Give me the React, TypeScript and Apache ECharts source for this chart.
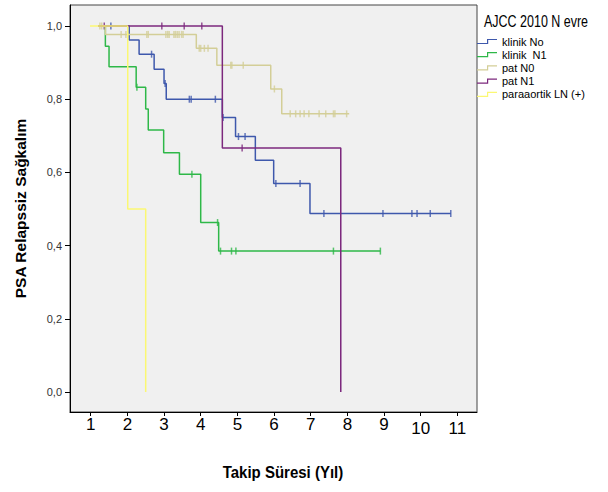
import React, { useEffect, useRef } from 'react';
import * as echarts from 'echarts';

// ---- Data ----
const xTickValues = [1, 2, 3, 4, 5, 6, 7, 8, 9, 10, 11];
const yTickValues = [0, 0.2, 0.4, 0.6, 0.8, 1.0];

const seriesNames = ['klinik No', 'klinik  N1', 'pat N0', 'pat N1', 'paraaortik LN (+)'];

// klinik No
const klinikNoTimes = [1.2, 2.05, 2.32, 2.73, 3.0, 3.06, 4.59, 4.95, 5.49, 5.99, 6.98, 10.82];
const klinikNoSurv = [1.0, 0.962, 0.923, 0.882, 0.843, 0.8, 0.75, 0.698, 0.633, 0.57, 0.488, 0.488];
const klinikNoCensor = [1.55, 2.66, 3.03, 3.69, 3.74, 4.4, 4.61, 5.03, 5.21, 6.05, 6.71, 7.36, 8.97, 9.76, 9.9, 10.26, 10.82];

// klinik N1
const klinikN1Times = [1.2, 1.4, 1.5, 2.24, 2.5, 2.57, 2.99, 3.42, 4.0, 4.49, 8.9];
const klinikN1Surv = [1.0, 0.945, 0.889, 0.833, 0.773, 0.716, 0.654, 0.595, 0.463, 0.385, 0.385];
const klinikN1Censor = [2.26, 3.76, 4.46, 4.54, 4.84, 4.96, 7.62, 8.9];

// pat N0
const patN0Times = [1.2, 1.4, 3.88, 4.44, 5.91, 6.21, 8.05];
const patN0Surv = [1.0, 0.977, 0.939, 0.893, 0.828, 0.76, 0.76];
const patN0Censor = [1.25, 1.3, 1.83, 1.96, 2.01, 2.53, 2.57, 3.05, 3.1, 3.14, 3.27, 3.31, 3.36, 3.41, 3.48, 3.52,
  3.96, 4.0, 4.1, 4.2, 4.82, 4.85, 5.16, 6.01, 6.44, 6.59, 6.71, 6.82, 6.95, 7.23, 7.41, 7.62, 7.66, 7.98];

// pat N1
const patN1Times = [1.2, 4.59, 7.82];
const patN1Surv = [1.0, 0.667, 0.0];
const patN1Censor = [1.37, 2.94, 3.55, 4.03, 5.13];

// paraaortik LN (+)
const paraTimes = [0.98, 2.01, 2.5];
const paraSurv = [1.0, 0.5, 0.0];
const paraCensor: number[] = [];

// ---- Styles ----
const palette = ['#3E58AC', '#2EB848', '#D3CE97', '#7C287D', '#FBF873'];
const FONT = "'Liberation Sans', Arial, sans-serif";
const X_MIN = 0.4355;
const X_MAX = 11.535;
const Y_MIN = -0.0546;
const Y_MAX = 1.0574;
// step-shaped legend icon drawn as a thin filled band
const STEP_ICON = 'path://M0,4L10,4L10,0L20,0L20,1.2L11.2,1.2L11.2,5.2L0,5.2Z';

const curves = [
  { times: klinikNoTimes, surv: klinikNoSurv, censor: klinikNoCensor },
  { times: klinikN1Times, surv: klinikN1Surv, censor: klinikN1Censor },
  { times: patN0Times, surv: patN0Surv, censor: patN0Censor },
  { times: patN1Times, surv: patN1Surv, censor: patN1Censor },
  { times: paraTimes, surv: paraSurv, censor: paraCensor },
].map((c, i) => ({ ...c, name: seriesNames[i], color: palette[i] }));

function survAt(times: number[], surv: number[], t: number): number {
  let s = surv[0];
  for (let i = 0; i < times.length; i++) if (times[i] <= t) s = surv[i];
  return s;
}

export default function App() {
  const ref = useRef<HTMLDivElement>(null);
  useEffect(() => {
    if (!ref.current) return;
    const chart = echarts.init(ref.current, undefined, { renderer: 'svg' });
    const series: any[] = [];
    curves.forEach((c) => {
      series.push({
        type: 'line',
        name: c.name,
        step: 'end',
        data: c.times.map((t, i) => [t, c.surv[i]]),
        symbol: 'none',
        showSymbol: false,
        silent: true,
        lineStyle: { color: c.color, width: 1.5 },
        itemStyle: { color: c.color },
      });
      if (c.censor.length) {
        series.push({
          type: 'scatter',
          name: c.name,
          data: c.censor.map((t) => [t, survAt(c.times, c.surv, t)]),
          symbol: 'rect',
          symbolSize: [1.5, 7],
          silent: true,
          itemStyle: { color: c.color },
        });
      }
    });

    chart.setOption({
      animation: false,
      backgroundColor: '#ffffff',
      textStyle: { fontFamily: FONT },
      grid: {
        left: 70, top: 5, width: 407, height: 407,
        show: true, backgroundColor: '#F0F0F0', borderColor: '#444', borderWidth: 1,
      },
      xAxis: {
        type: 'value', min: X_MIN, max: X_MAX,
        axisLine: { show: true, onZero: false, lineStyle: { color: '#000', width: 1 } },
        axisTick: { show: true, customValues: xTickValues, length: 4, lineStyle: { color: '#000' } },
        axisLabel: {
          customValues: xTickValues, margin: 2, color: '#000', fontSize: 17, fontFamily: FONT,
          formatter: (v: number) => (v >= 10 ? `{low|${v}}` : `{std|${v}}`),
          rich: {
            std: { fontSize: 17, lineHeight: 20, color: '#000', fontFamily: FONT },
            low: { fontSize: 17, lineHeight: 28, color: '#000', fontFamily: FONT },
          },
        },
        splitLine: { show: false },
      },
      yAxis: {
        type: 'value', min: Y_MIN, max: Y_MAX,
        axisLine: { show: true, onZero: false, lineStyle: { color: '#000', width: 1 } },
        axisTick: { show: true, customValues: yTickValues, length: 5, lineStyle: { color: '#000' } },
        axisLabel: {
          customValues: yTickValues, margin: 8, color: '#333', fontSize: 11, fontFamily: FONT,
          formatter: (v: number) => v.toFixed(1).replace('.', ','),
        },
        splitLine: { show: false },
      },
      legend: {
        orient: 'vertical', left: 477, top: 36, padding: 0,
        itemWidth: 20, itemHeight: 5.2, itemGap: 2.2,
        icon: STEP_ICON,
        symbolKeepAspect: false,
        selectedMode: false,
        itemStyle: { borderWidth: 0 },
        textStyle: { fontSize: 11, color: '#000', fontFamily: FONT },
        data: curves.map((c) => ({
          name: c.name,
          itemStyle: { color: c.color, borderWidth: 0 },
        })),
      },
      graphic: [
        {
          type: 'text', x: 484, y: 21, scaleY: 1.35,
          style: { text: 'AJCC 2010 N evre', fontSize: 12.5, fill: '#000', fontFamily: FONT, verticalAlign: 'middle', align: 'left' },
        },
        {
          type: 'text', x: 283, y: 472, scaleY: 1.13,
          style: { text: 'Takip Süresi (Yıl)', fontSize: 15, fontWeight: 'bold', fill: '#000', fontFamily: FONT, verticalAlign: 'middle', align: 'center' },
        },
        {
          type: 'text', x: 20, y: 208.5, rotation: Math.PI / 2,
          style: { text: 'PSA Relapssiz Sağkalım', fontSize: 15.5, fontWeight: 'bold', fill: '#000', fontFamily: FONT, verticalAlign: 'middle', align: 'center' },
        },
      ],
      series,
    });
    return () => chart.dispose();
  }, []);
  return <div ref={ref} style={{ position: 'fixed', left: 0, top: 0, width: 608, height: 492 }} />;
}
